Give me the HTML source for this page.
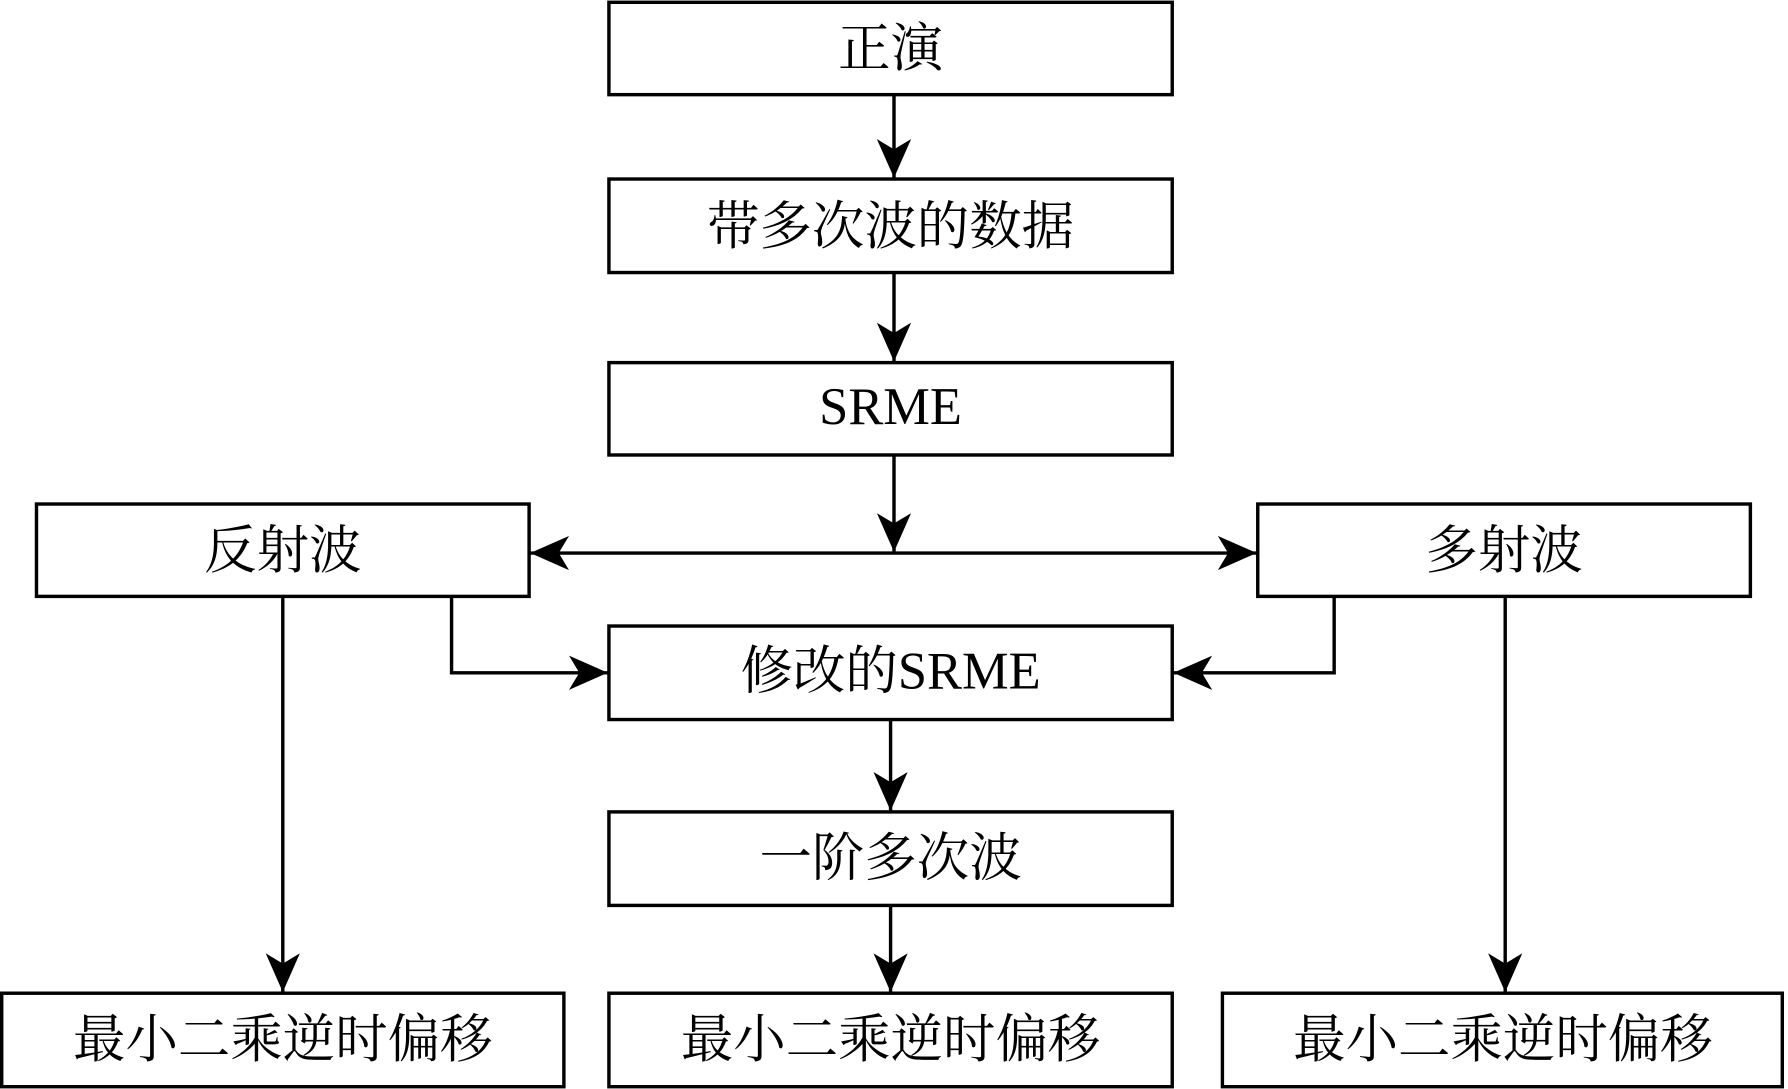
<!DOCTYPE html>
<html><head><meta charset="utf-8"><style>
html,body{margin:0;padding:0;background:#fff;}
svg{display:block;}
text{font-family:"Liberation Serif","Noto Serif CJK SC",serif;font-size:46px;fill:#000;text-anchor:middle;dominant-baseline:central;}
</style></head><body>
<svg width="1788" height="1089" viewBox="0 0 1568 955" xmlns="http://www.w3.org/2000/svg">
<defs>
<marker id="a" markerWidth="36" markerHeight="30" refX="34" refY="15" orient="auto" markerUnits="userSpaceOnUse">
<path d="M0,0 L34,15 L0,30 L9,15 Z" fill="#000"/>
</marker>
</defs>
<g fill="none" stroke="#000" stroke-width="3">
<rect x="534" y="2" width="494" height="81"/>
<rect x="534" y="157" width="494" height="82"/>
<rect x="534" y="318" width="494" height="81"/>
<rect x="32" y="442" width="432" height="81"/>
<rect x="1103" y="442" width="432" height="81"/>
<rect x="534" y="549" width="494" height="82"/>
<rect x="534" y="712" width="494" height="82"/>
<rect x="1.5" y="871" width="493" height="82"/>
<rect x="534" y="871" width="494" height="82"/>
<rect x="1072" y="871" width="491" height="82"/>
</g>
<g stroke="#000" stroke-width="3" fill="none">
<line x1="784" y1="83" x2="784" y2="156" marker-end="url(#a)"/>
<line x1="784" y1="239" x2="784" y2="317" marker-end="url(#a)"/>
<line x1="784" y1="399" x2="784" y2="484" marker-end="url(#a)"/>
<line x1="784" y1="485" x2="465" y2="485" marker-end="url(#a)"/>
<line x1="784" y1="485" x2="1102" y2="485" marker-end="url(#a)"/>
<line x1="248" y1="523" x2="248" y2="870" marker-end="url(#a)"/>
<polyline points="396,523 396,590 533,590" marker-end="url(#a)"/>
<polyline points="1170,523 1170,590 1029,590" marker-end="url(#a)"/>
<line x1="1320" y1="523" x2="1320" y2="870" marker-end="url(#a)"/>
<line x1="781" y1="631" x2="781" y2="711" marker-end="url(#a)"/>
<line x1="781" y1="794" x2="781" y2="870" marker-end="url(#a)"/>
</g>
<text x="781" y="43">正演</text>
<text x="781" y="199">带多次波的数据</text>
<text x="781" y="357">SRME</text>
<text x="248" y="483">反射波</text>
<text x="1319" y="483">多射波</text>
<text x="781" y="589">修改的SRME</text>
<text x="781" y="753">一阶多次波</text>
<text x="248" y="912">最小二乘逆时偏移</text>
<text x="781" y="912">最小二乘逆时偏移</text>
<text x="1318" y="912">最小二乘逆时偏移</text>
</svg>
</body></html>
